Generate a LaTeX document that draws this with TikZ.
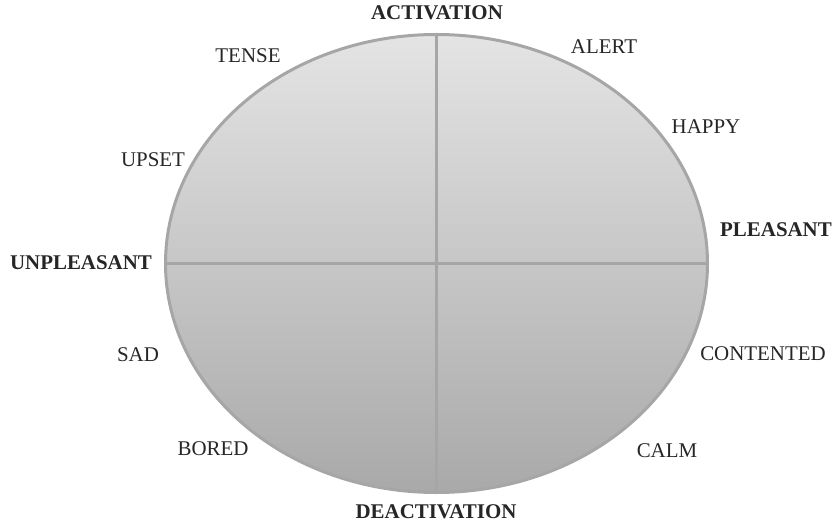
\documentclass[tikz,border=0pt]{standalone}
\usepackage{fontspec}
\setmainfont{Liberation Serif}
\usetikzlibrary{shapes.geometric}
\definecolor{ringgray}{HTML}{A6A6A6}
\definecolor{topgray}{HTML}{E4E4E4}
\definecolor{botgray}{HTML}{A9A9A9}
\begin{document}
\begin{tikzpicture}[x=1bp,y=-1bp,
  lbl/.style={font=\fontsize{21}{25}\selectfont, inner sep=0pt, text=black!85},
  blbl/.style={font=\fontsize{21}{25}\selectfont\bfseries, inner sep=0pt, text=black!85},
  axisline/.style={draw=ringgray, line width=3bp}]
\useasboundingbox (0,0) rectangle (838,522);
\node[ellipse, draw=ringgray, line width=3bp, minimum width=542bp, minimum height=458bp,
  inner sep=0pt, top color=topgray, bottom color=botgray] (oval) at (436.5,263.5) {};
\draw[axisline] (oval.north) -- (oval.south);
\draw[axisline] (oval.west) -- (oval.east);
\node[blbl] (act) at (437,13) {ACTIVATION};
\node[blbl] (deact) at (436,512) {DEACTIVATION};
\node[blbl] (pleas) at (776,230) {PLEASANT};
\node[blbl] (unpleas) at (81,263) {UNPLEASANT};
\node[lbl] (tense) at (248,56) {TENSE};
\node[lbl] (alert) at (604,47) {ALERT};
\node[lbl] (happy) at (706,127) {HAPPY};
\node[lbl] (upset) at (153,160) {UPSET};
\node[lbl] (sad) at (138,355) {SAD};
\node[lbl] (content) at (763,354) {CONTENTED};
\node[lbl] (bored) at (213,449) {BORED};
\node[lbl] (calm) at (667,451) {CALM};
\end{tikzpicture}
\end{document}
